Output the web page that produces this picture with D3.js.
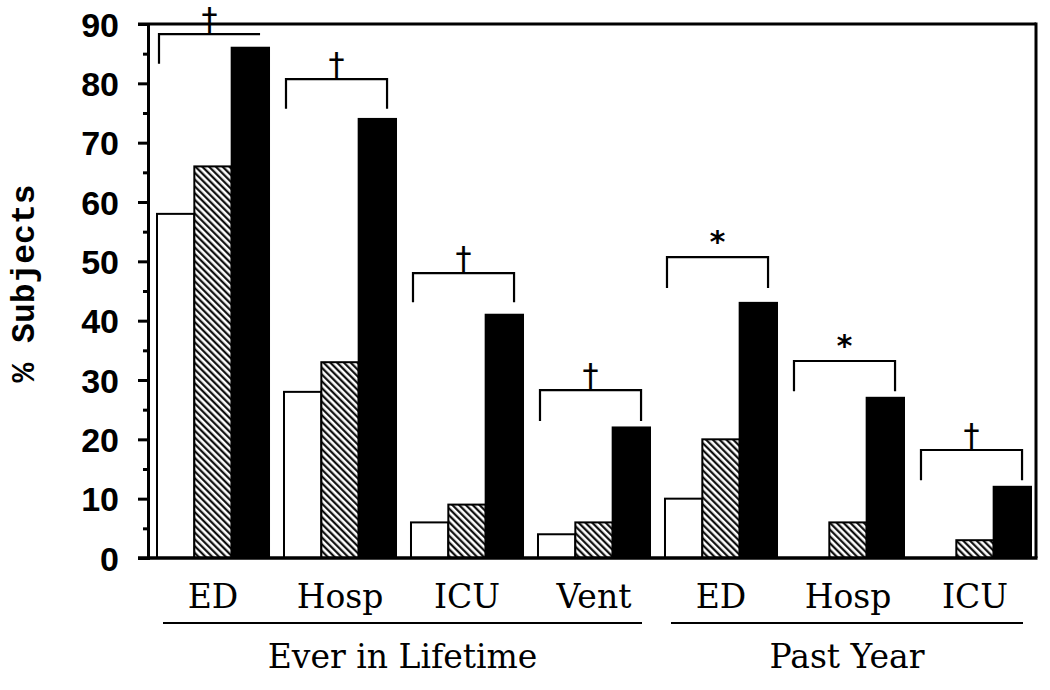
<!DOCTYPE html>
<html>
<head>
<meta charset="utf-8">
<script src="https://cdn.jsdelivr.net/npm/d3@7"></script>
<style>
  html, body { margin: 0; padding: 0; background: #fff; }
  svg { display: block; }
</style>
</head>
<body>
<svg id="chart" width="1050" height="690"></svg>
<script>
// ---- data ----
const categories = ["ED", "Hosp", "ICU", "Vent", "ED", "Hosp", "ICU"];
const seriesNames = ["group1", "group2", "group3"];
const valuesWhite = [58, 28, 6, 4, 10, 0, 0];
const valuesHatch = [66, 33, 9, 6, 20, 6, 3];
const valuesBlack = [86, 74, 41, 22, 43, 27, 12];
const yTicks = [0, 10, 20, 30, 40, 50, 60, 70, 80, 90];
const yMinorTicks = [5, 15, 25, 35, 45, 55, 65, 75, 85];
const bracketTop = [88.3, 80.7, 48, 28.3, 50.7, 33.2, 18.2];
const bracketLeftEnd = [83.3, 75.7, 43.1, 23.1, 45.5, 28.1, 13.1];
const bracketRightEnd = [88.3, 75.7, 43.1, 23.1, 45.5, 28.1, 13.1];
const bracketSymbols = ["†", "†", "†", "†", "*", "*", "†"];
const periods = ["Ever in Lifetime", "Past Year"];
const periodGroups = [[0, 3], [4, 6]];

// ---- layout ----
const svg = d3.select("#chart");
const plotLeft = 148, plotRight = 1036, plotTop = 24, plotBottom = 558;

const y = d3.scaleLinear().domain([0, 90]).range([plotBottom, plotTop]);
const idx = categories.map((d, i) => i);
const x0 = d3.scaleBand().domain(idx).range([157, 1031]).paddingInner(0.118).paddingOuter(0);
const x1 = d3.scaleBand().domain(seriesNames).range([0, x0.bandwidth()]).padding(0);

const defs = svg.append("defs");
const P = 4.8;
const pat = defs.append("pattern")
  .attr("id", "hatch")
  .attr("patternUnits", "userSpaceOnUse")
  .attr("width", P).attr("height", P)
  .attr("patternTransform", "rotate(-45)");
pat.append("rect").attr("width", P).attr("height", P).attr("fill", "#fff");
pat.append("line").attr("x1", 1.2).attr("x2", 1.2).attr("y1", 0).attr("y2", P)
  .attr("stroke", "#000").attr("stroke-width", 2.1);

const fills = { group1: "#fff", group2: "url(#hatch)", group3: "#000" };
const seriesVals = { group1: valuesWhite, group2: valuesHatch, group3: valuesBlack };

// bars
const g = svg.append("g");
idx.forEach(i => {
  seriesNames.forEach(s => {
    const v = seriesVals[s][i];
    if (v <= 0) return;
    g.append("rect")
      .attr("x", x0(i) + x1(s))
      .attr("y", y(v))
      .attr("width", x1.bandwidth())
      .attr("height", y(0) - y(v))
      .attr("fill", fills[s])
      .attr("stroke", "#000")
      .attr("stroke-width", 2);
  });
});

// frame: top and right borders
svg.append("line").attr("x1", 138).attr("x2", plotRight).attr("y1", plotTop).attr("y2", plotTop)
  .attr("stroke", "#000").attr("stroke-width", 3);
svg.append("line").attr("x1", plotRight).attr("x2", plotRight).attr("y1", plotTop - 1.5).attr("y2", plotBottom)
  .attr("stroke", "#000").attr("stroke-width", 3);
// bottom axis line
svg.append("line").attr("x1", 138).attr("x2", plotRight + 1.5).attr("y1", plotBottom).attr("y2", plotBottom)
  .attr("stroke", "#000").attr("stroke-width", 3.5);

// y axis
const yAxis = d3.axisLeft(y).tickValues(yTicks).tickSize(10).tickPadding(19).tickFormat(d3.format("d"));
const ya = svg.append("g").attr("transform", `translate(${plotLeft},0)`).call(yAxis);
ya.select(".domain").attr("stroke", "#000").attr("stroke-width", 3);
ya.selectAll(".tick line").attr("stroke", "#000").attr("stroke-width", 3);
ya.selectAll(".tick text")
  .attr("font-family", "'Liberation Sans', Arial, sans-serif")
  .attr("font-weight", "bold")
  .attr("font-size", 34)
  .attr("fill", "#000")
  .attr("dy", "0.36em");
const yMinor = d3.axisLeft(y).tickValues(yMinorTicks).tickSize(5).tickFormat("");
const ym = svg.append("g").attr("transform", `translate(${plotLeft},0)`).call(yMinor);
ym.select(".domain").remove();
ym.selectAll(".tick line").attr("stroke", "#000").attr("stroke-width", 3);

// y label
svg.append("text")
  .attr("transform", `translate(34, ${(182 + 385) / 2}) rotate(-90)`)
  .attr("text-anchor", "middle")
  .attr("font-family", "'Liberation Mono', 'Courier New', monospace")
  .attr("font-weight", "bold")
  .attr("font-size", 33)
  .attr("fill", "#000")
  .text("% Subjects");

// brackets
const bg = svg.append("g");
idx.forEach(i => {
  const xl = x0(i) + 2;
  const xr = x0(i) + x0.bandwidth() * 0.92;
  const path = d3.path();
  path.moveTo(xl, y(bracketLeftEnd[i]));
  path.lineTo(xl, y(bracketTop[i]));
  path.lineTo(xr, y(bracketTop[i]));
  path.lineTo(xr, y(bracketRightEnd[i]));
  bg.append("path").attr("d", path.toString())
    .attr("fill", "none").attr("stroke", "#000").attr("stroke-width", 2.2);
  const sym = bracketSymbols[i];
  const cx = (xl + xr) / 2;
  if (sym === "†") {
    bg.append("text")
      .attr("x", cx).attr("y", y(bracketTop[i]) - 4)
      .attr("text-anchor", "middle")
      .attr("font-family", "'DejaVu Sans', sans-serif")
      .attr("font-size", 32)
      .attr("fill", "#000")
      .text(sym);
  } else {
    bg.append("text")
      .attr("x", cx).attr("y", y(bracketTop[i]) - 5)
      .attr("text-anchor", "middle")
      .attr("font-family", "'DejaVu Sans Mono', monospace")
      .attr("font-weight", "bold")
      .attr("font-size", 30)
      .attr("fill", "#000")
      .text(sym);
  }
});

// category labels
svg.append("g").selectAll("text").data(idx).join("text")
  .attr("x", i => x0(i) + x0.bandwidth() / 2)
  .attr("y", 608)
  .attr("text-anchor", "middle")
  .attr("font-family", "'DejaVu Serif', serif")
  .attr("font-size", 33)
  .attr("fill", "#000")
  .text(i => categories[i]);

// period underlines and labels
periodGroups.forEach((pg, k) => {
  const xa = x0(pg[0]) + 6;
  const xb = x0(pg[1]) + x0.bandwidth() - 8;
  svg.append("line").attr("x1", xa).attr("x2", xb).attr("y1", 623).attr("y2", 623)
    .attr("stroke", "#000").attr("stroke-width", 2);
  svg.append("text")
    .attr("x", (xa + xb) / 2).attr("y", 668)
    .attr("text-anchor", "middle")
    .attr("font-family", "'DejaVu Serif', serif")
    .attr("font-size", 33)
    .attr("fill", "#000")
    .text(periods[k]);
});
</script>
</body>
</html>
